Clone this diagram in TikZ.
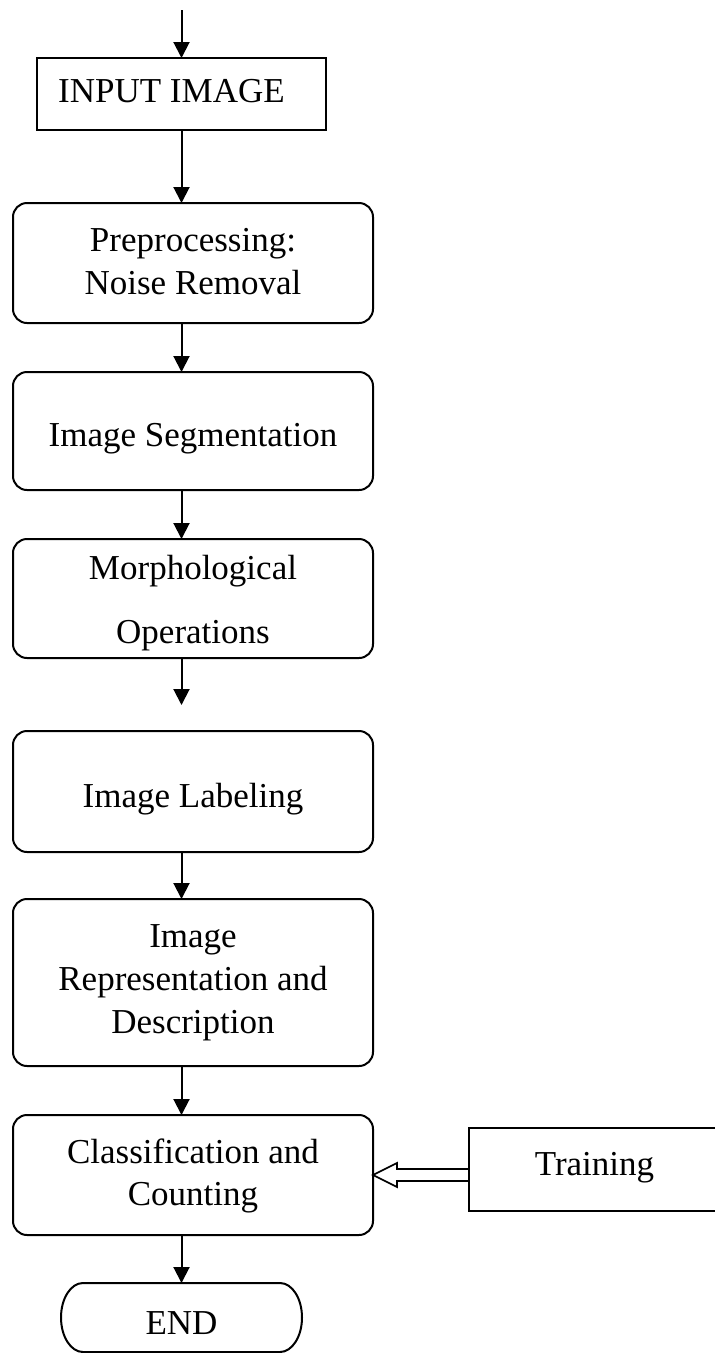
\documentclass[tikz,border=0pt]{standalone}
\usepackage{fontspec}
\setmainfont{Liberation Serif}
\usetikzlibrary{arrows.meta,calc}
\begin{document}
\begin{tikzpicture}[x=1pt,y=-1pt,
  ln/.style={line width=2pt},
  arr/.style={ln,-{Triangle[width=16pt,length=16pt]}},
  boxr/.style={draw,ln,rounded corners=14pt,minimum width=360pt,inner sep=0pt,outer sep=0pt},
  boxs/.style={draw,ln,inner sep=0pt,outer sep=0pt},
  txt/.style={font=\fontsize{35}{43}\selectfont,inner sep=0pt,anchor=base},
  hollow/.style={line width=1.6pt,fill=white,line join=miter}
]
\useasboundingbox (0,0) rectangle (715,1353);

% boxes
\node[boxs,minimum width=289pt,minimum height=72pt] (in) at (181.5,94) {};
\node[boxr,minimum height=120pt] (pre) at (193,263) {};
\node[boxr,minimum height=118pt] (seg) at (193,431) {};
\node[boxr,minimum height=119pt] (mor) at (193,598.5) {};
\node[boxr,minimum height=121pt] (lab) at (193,791.5) {};
\node[boxr,minimum height=167pt] (rep) at (193,982.5) {};
\node[boxr,minimum height=120pt] (cls) at (193,1175) {};
\node[boxs,minimum width=256pt,minimum height=83pt] (train) at (597,1169.5) {};
\node[inner sep=0pt,outer sep=0pt,minimum width=241pt,minimum height=69pt] (endn) at (181.5,1317.5) {};
\draw[ln] ($(endn.north west)+(22,0)$) -- ($(endn.north east)+(-22,0)$)
  arc[start angle=-90,end angle=90,x radius=22,y radius=34.5]
  -- ($(endn.south west)+(22,0)$)
  arc[start angle=90,end angle=270,x radius=22,y radius=34.5] -- cycle;

% texts
\node[txt,anchor=base west] (tin) at (58,102) {INPUT IMAGE};
\node[txt] (tpre1) at (193,251) {Preprocessing:};
\node[txt] (tpre2) at (193,294) {Noise Removal};
\node[txt] (tseg) at (193,446) {Image Segmentation};
\node[txt] (tmor1) at (193,579) {Morphological};
\node[txt] (tmor2) at (193,643) {Operations};
\node[txt] (tlab) at (193,807) {Image Labeling};
\node[txt] (trep1) at (193,947) {Image};
\node[txt] (trep2) at (193,990) {Representation and};
\node[txt] (trep3) at (193,1033) {Description};
\node[txt] (tcls1) at (193,1163) {Classification and};
\node[txt] (tcls2) at (193,1205) {Counting};
\node[txt] (ttrain) at (594.5,1175) {Training};
\node[txt] (tend) at (181.5,1334) {END};

% connectors
\coordinate (start) at (181.5,10);
\coordinate (gap) at (181.5,705);
\draw[arr] (start) -- (in.north);
\draw[arr] (in.south) -- (in.south |- pre.north);
\draw[arr] (pre.south -| in.south) -- (seg.north -| in.south);
\draw[arr] (seg.south -| in.south) -- (mor.north -| in.south);
\draw[arr] (mor.south -| in.south) -- (gap);
\draw[arr] (lab.south -| in.south) -- (rep.north -| in.south);
\draw[arr] (rep.south -| in.south) -- (cls.north -| in.south);
\draw[arr] (cls.south -| in.south) -- (endn.north);

% hollow arrow from Training
\draw[hollow] (cls.east) -- ($(cls.east)+(24,-12)$) -- ($(cls.east)+(24,-6)$)
  -- ($(train.west |- cls.east)+(0,-6)$) -- ($(train.west |- cls.east)+(0,6)$)
  -- ($(cls.east)+(24,6)$) -- ($(cls.east)+(24,12)$) -- cycle;
\end{tikzpicture}
\end{document}
